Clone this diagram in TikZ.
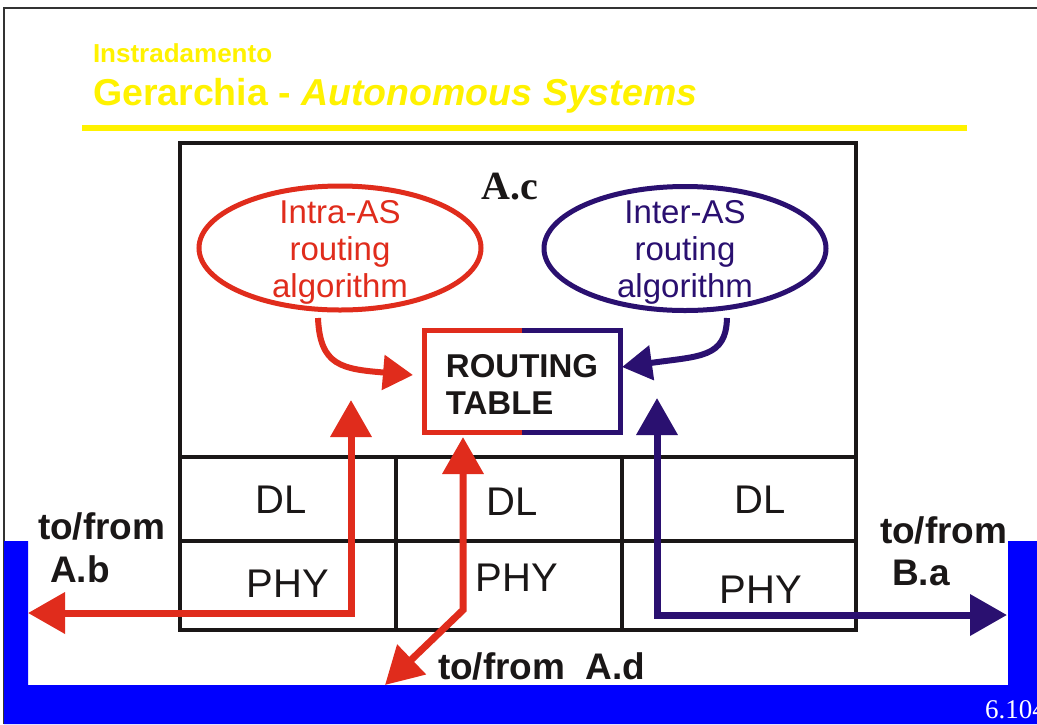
\documentclass[tikz,border=0pt]{standalone}
\usepackage{fontspec}
\setmainfont{Liberation Sans}
\newfontfamily\serifb{Liberation Serif}
\usetikzlibrary{arrows.meta,shapes.geometric}
\definecolor{myred}{RGB}{224,44,28}
\definecolor{myblue}{RGB}{42,16,112}
\definecolor{framebl}{RGB}{0,0,255}
\definecolor{ink}{RGB}{26,23,23}
\newcommand\fsz[2]{\fontsize{#1}{#2}\selectfont}
\tikzset{
  lbl/.style={anchor=base west, font=\bfseries\fsz{37}{42}, text=ink},
  layer/.style={font=\fsz{40}{44}, text=ink},
  gridline/.style={line width=4, draw=ink},
  bigarrow/.style={line width=7, line join=miter, {Triangle[length=37,width=40]}-{Triangle[length=37,width=40]}},
  curvearrow/.style={line width=6, -{Triangle[length=30,width=34]}},
  oval/.style={ellipse, line width=5, minimum width=282, minimum height=124, inner sep=0pt},
  ovaltext/.style={align=center, font=\fsz{33}{37}},
}
\begin{document}
\begin{tikzpicture}[x=1pt,y=-1pt, every node/.style={inner sep=0pt, outer sep=0pt}]
\useasboundingbox (0,0) rectangle (1037,724);
\fill[white] (0,0) rectangle (1037,724);
% slide frame
\draw[line width=1.5, draw=black!80] (4,724) -- (4,8) -- (1037,8);
\fill[framebl] (4,541) -- (28,541) -- (28,685) -- (1008,685) -- (1008,541) -- (1037,541) -- (1037,724) -- (4,724) -- cycle;
\node[anchor=base west, text=white, font=\serifb\fsz{27}{29}] (pg) at (985,718) {6.104};
% title
\node[anchor=base west, text=yellow, font=\bfseries\fsz{26}{28}] (t1) at (93,62) {Instradamento};
\node[anchor=base west, text=yellow, font=\bfseries\fsz{37.5}{40}] (t2) at (93,105) {Gerarchia - \textit{Autonomous Systems}};
\fill[yellow] (82,125) rectangle (967,131);
% router box
\draw[gridline] (180,143) rectangle (856,630);
\draw[gridline] (180,457) -- (856,457);
\draw[gridline] (180,541) -- (856,541);
\draw[gridline] (396,457) -- (396,630);
\draw[gridline] (622,457) -- (622,630);
\node[layer] (dl1) at (281,500) {DL};
\node[layer] (dl2) at (512,502) {DL};
\node[layer] (dl3) at (760,500) {DL};
\node[layer] (phy1) at (288,584) {PHY};
\node[layer] (phy2) at (517,578) {PHY};
\node[layer] (phy3) at (761,590) {PHY};
\node[anchor=base, font=\serifb\bfseries\fsz{40}{44}, text=ink] (ac) at (510,199) {A.c};
% ellipses
\node[oval, draw=myred] (intra) at (340,248) {};
\node[ovaltext, text=myred] (intraT) at (340,252) {Intra-AS\\routing\\algorithm};
\node[oval, draw=myblue] (inter) at (685,248.5) {};
\node[ovaltext, text=myblue] (interT) at (685,252) {Inter-AS\\routing\\algorithm};
% routing table
\node[minimum width=196, minimum height=102] (rt) at (522,381) {};
\node[align=left, font=\bfseries\fsz{33}{37}, text=ink] (rtT) at (522,384) {ROUTING\\TABLE};
\draw[myred, line width=5, line join=miter] (rt.north) -- (rt.north west) -- (rt.south west) -- (rt.south);
\draw[myblue, line width=5, line join=miter] (rt.north) -- (rt.north east) -- (rt.south east) -- (rt.south);
% curved arrows
\coordinate (intraOut) at (318,318);
\coordinate (rtInL) at (413,375);
\coordinate (interOut) at (727,318);
\coordinate (rtInR) at (622,367);
\draw[myred, curvearrow] (intraOut) .. controls (320,366) and (342,369) .. (rtInL);
\draw[myblue, curvearrow] (interOut) .. controls (726,358) and (700,356) .. (rtInR);
% big arrows
\coordinate (abTip) at (28,613);
\coordinate (abCorner) at (351,613);
\coordinate (abUp) at (351,400);
\coordinate (adTip) at (385,685);
\coordinate (adCorner) at (463,610);
\coordinate (adUp) at (463,437);
\coordinate (baUp) at (657,398);
\coordinate (baCorner) at (657,615);
\coordinate (baTip) at (1007,615);
\draw[myred, bigarrow] (abTip) -- (abCorner) -- (abUp);
\draw[myred, bigarrow] (adTip) -- (adCorner) -- (adUp);
\draw[myblue, bigarrow] (baUp) -- (baCorner) -- (baTip);
% labels
\node[lbl] (ab1) at (38,539) {to/from};
\node[lbl] (ab2) at (50,582) {A.b};
\node[lbl] (ba1) at (880,543) {to/from};
\node[lbl] (ba2) at (892,585) {B.a};
\node[lbl] (ad) at (438,679) {to/from\ \ A.d};
\end{tikzpicture}
\end{document}
